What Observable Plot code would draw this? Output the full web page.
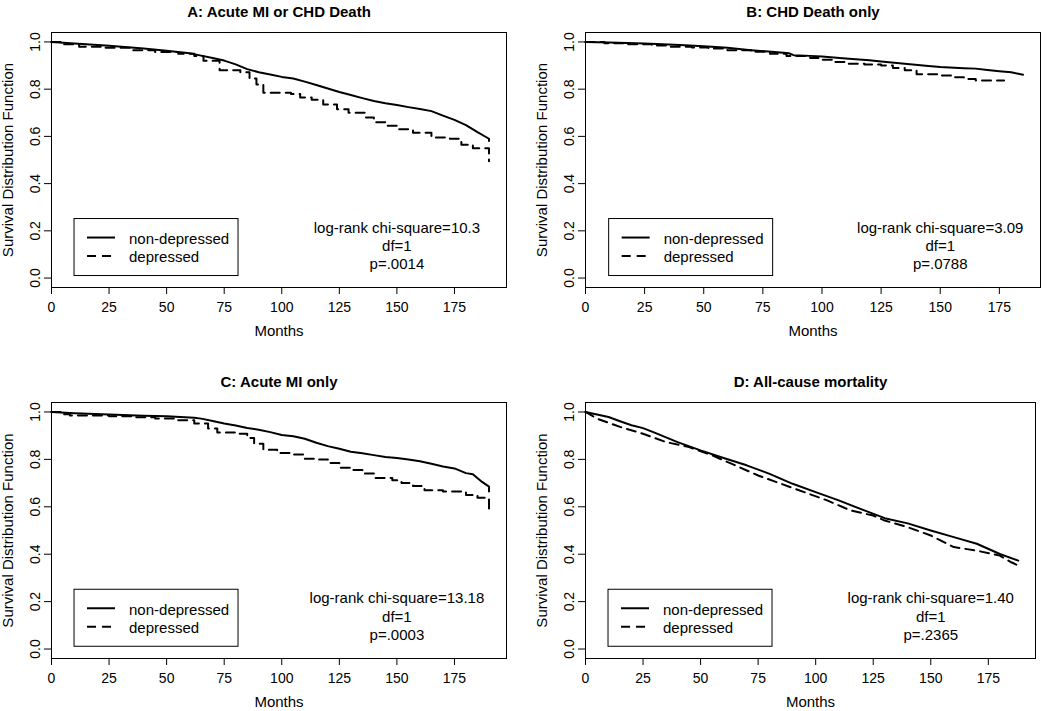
<!DOCTYPE html>
<html><head><meta charset="utf-8">
<script src="https://cdn.jsdelivr.net/npm/d3@7"></script>
<script src="https://cdn.jsdelivr.net/npm/@observablehq/plot@0.6"></script>
<style>
body{margin:0;background:#fff;}
#root{position:relative;width:1050px;height:711px;font-family:"Liberation Sans",Arial,sans-serif;}
.panel{position:absolute;}
</style></head><body><div id="root"></div>
<script>
const xTicks = [0, 25, 50, 75, 100, 125, 150, 175];
const yTicks = [0, 0.2, 0.4, 0.6, 0.8, 1.0];
const titles = ["A: Acute MI or CHD Death", "B: CHD Death only", "C: Acute MI only", "D: All-cause mortality"];
const stats = [
  "log-rank chi-square=10.3\ndf=1\np=.0014",
  "log-rank chi-square=3.09\ndf=1\np=.0788",
  "log-rank chi-square=13.18\ndf=1\np=.0003",
  "log-rank chi-square=1.40\ndf=1\np=.2365"
];
const legendLabels = ["non-depressed", "depressed"];
const yLabel = "Survival Distribution Function";
const xLabel = "Months";
const annotX = 150, annotY = 0.14;
const legendX = 10, legendY = 0.25;

// Panel A
const aNonT = [0,10,25,40,50,60,65,70,75,80,85,90,95,100,105,110,115,120,125,130,135,140,145,150,155,160,165,170,175,180,185,190,190];
const aNonS = [1,0.993,0.984,0.972,0.963,0.952,0.942,0.932,0.921,0.905,0.885,0.872,0.862,0.852,0.845,0.832,0.818,0.803,0.788,0.775,0.762,0.75,0.74,0.733,0.724,0.716,0.707,0.688,0.67,0.648,0.618,0.59,0.58];
const aDepT = [0,5,12,22,35,45,55,62,66,73,82,86,89,92,104,108,113,118,124,129,136,140,146,151,157,165,173,178,183,190,190];
const aDepS = [1,0.99,0.98,0.975,0.965,0.957,0.95,0.94,0.92,0.88,0.872,0.845,0.82,0.785,0.78,0.765,0.755,0.735,0.715,0.70,0.68,0.66,0.645,0.63,0.615,0.595,0.59,0.565,0.55,0.55,0.495];
// Panel B
const bNonT = [0,10,25,40,50,60,70,80,86,88,95,100,110,120,125,135,145,150,160,165,170,175,180,185];
const bNonS = [1,0.998,0.993,0.987,0.982,0.975,0.965,0.957,0.952,0.944,0.941,0.938,0.93,0.922,0.917,0.908,0.898,0.894,0.889,0.887,0.881,0.876,0.872,0.861];
const bDepT = [0,8,18,28,35,45,52,60,70,78,85,95,100,105,110,118,125,130,135,140,150,155,160,165,177];
const bDepS = [1,0.995,0.99,0.985,0.98,0.977,0.972,0.965,0.958,0.95,0.94,0.932,0.925,0.915,0.908,0.905,0.9,0.89,0.88,0.863,0.858,0.85,0.843,0.837,0.837];
// Panel C
const cNonT = [0,10,25,40,50,62,65,70,75,80,85,90,95,100,105,110,115,120,125,130,135,140,145,150,155,160,165,170,175,180,183,187,190,190];
const cNonS = [1,0.995,0.989,0.984,0.982,0.976,0.972,0.962,0.951,0.943,0.932,0.925,0.915,0.903,0.898,0.887,0.87,0.856,0.845,0.832,0.826,0.818,0.81,0.806,0.8,0.792,0.782,0.77,0.762,0.742,0.737,0.705,0.685,0.665];
const cDepT = [0,5,8,25,35,45,55,62,68,72,80,85,88,92,98,105,110,115,120,125,130,135,140,148,152,157,162,170,180,185,190,190];
const cDepS = [1,0.99,0.985,0.982,0.978,0.972,0.965,0.951,0.93,0.913,0.908,0.89,0.866,0.841,0.827,0.821,0.803,0.8,0.785,0.765,0.755,0.74,0.722,0.712,0.70,0.688,0.67,0.665,0.65,0.638,0.634,0.57];
// Panel D
const dNonT = [0,5,10,15,20,25,30,40,50,60,70,80,90,100,110,120,130,140,150,160,170,180,188];
const dNonS = [1,0.989,0.979,0.961,0.944,0.932,0.913,0.873,0.838,0.806,0.775,0.739,0.697,0.662,0.627,0.589,0.552,0.53,0.5,0.472,0.444,0.401,0.373];
const dDepT = [0,5,15,25,35,45,55,65,75,85,95,105,115,125,130,140,150,160,170,180,185,188];
const dDepS = [1,0.972,0.937,0.908,0.873,0.852,0.817,0.775,0.732,0.697,0.662,0.627,0.585,0.563,0.542,0.514,0.479,0.43,0.415,0.394,0.366,0.352];

const zip = (T, S) => T.map((t, i) => ({t, s: S[i]}));

const panels = [
  {left: 0, top: 0, w: 525, h: 355, mL: 51, mR: 19, mT: 32, mB: 68, xMax: 197.6, non: zip(aNonT, aNonS), dep: zip(aDepT, aDepS), cn: "linear", cd: "step-after"},
  {left: 525, top: 0, w: 525, h: 355, mL: 60, mR: 10, mT: 32, mB: 68, xMax: 192.4, non: zip(bNonT, bNonS), dep: zip(bDepT, bDepS), cn: "linear", cd: "step-after"},
  {left: 0, top: 355, w: 525, h: 356, mL: 51, mR: 19, mT: 47, mB: 53, xMax: 197.6, non: zip(cNonT, cNonS), dep: zip(cDepT, cDepS), cn: "linear", cd: "step-after"},
  {left: 525, top: 355, w: 525, h: 356, mL: 60, mR: 15, mT: 47, mB: 53, xMax: 195.5, non: zip(dNonT, dNonS), dep: zip(dDepT, dDepS), cn: "linear", cd: "linear"}
];

const root = document.getElementById("root");
const FONT = '"Liberation Sans", Arial, sans-serif';
const DASH = "9,6";

panels.forEach((p, i) => {
  const plot = Plot.plot({
    width: p.w, height: p.h,
    marginLeft: p.mL, marginRight: p.mR, marginTop: p.mT, marginBottom: p.mB,
    x: {domain: [0, p.xMax]},
    y: {domain: [-0.04, 1.04]},
    style: {fontFamily: FONT, fontSize: "14px", color: "#000", background: "#fff", overflow: "visible"},
    marks: [
      Plot.frame({stroke: "#000", strokeWidth: 1}),
      Plot.axisX({ticks: xTicks, tickSize: 7, tickPadding: 8, label: null, fontSize: 14}),
      Plot.axisY({ticks: yTicks, tickSize: 7, tickPadding: 5, tickRotate: -90, tickFormat: d3.format(".1f"), label: null, fontSize: 14}),
      Plot.line(p.non, {x: "t", y: "s", curve: p.cn, stroke: "#000", strokeWidth: 2}),
      Plot.line(p.dep, {x: "t", y: "s", curve: p.cd, stroke: "#000", strokeWidth: 2, strokeDasharray: DASH}),
      Plot.text([stats[i]], {x: () => annotX, y: () => annotY, text: d => d, lineHeight: 1.22, fontSize: 15, textAnchor: "middle", lineAnchor: "middle"}),
      Plot.text([titles[i]], {frameAnchor: "top", dy: -16, lineAnchor: "bottom", text: d => d, fontWeight: "bold", fontSize: 15}),
      Plot.text([yLabel], {frameAnchor: "left", dx: -43, rotate: -90, text: d => d, fontSize: 15, textAnchor: "middle", lineAnchor: "middle"}),
      Plot.text([xLabel], {frameAnchor: "bottom", dy: 44, text: d => d, fontSize: 15, lineAnchor: "middle"})
    ]
  });
  // legend placed through the plot's own scales
  const sx = plot.scale("x"), sy = plot.scale("y");
  const ax = sx.apply(legendX), ay = sy.apply(legendY);
  const g = d3.select(plot).append("g").attr("font-family", FONT).attr("font-size", 15).attr("text-anchor", "start");
  g.append("rect").attr("x", ax).attr("y", ay).attr("width", 164).attr("height", 57)
    .attr("fill", "#fff").attr("stroke", "#000").attr("stroke-width", 1);
  legendLabels.forEach((lab, k) => {
    const ly = ay + 19 + k * 18.4;
    g.append("line").attr("x1", ax + 13).attr("x2", ax + 41).attr("y1", ly).attr("y2", ly)
      .attr("stroke", "#000").attr("stroke-width", 2).attr("stroke-dasharray", k ? DASH : null);
    g.append("text").attr("x", ax + 55).attr("y", ly + 6.5).attr("fill", "#000").attr("text-anchor", "start").text(lab);
  });
  const div = document.createElement("div");
  div.className = "panel";
  div.style.left = p.left + "px";
  div.style.top = p.top + "px";
  div.appendChild(plot);
  root.appendChild(div);
});
</script>
</body></html>
